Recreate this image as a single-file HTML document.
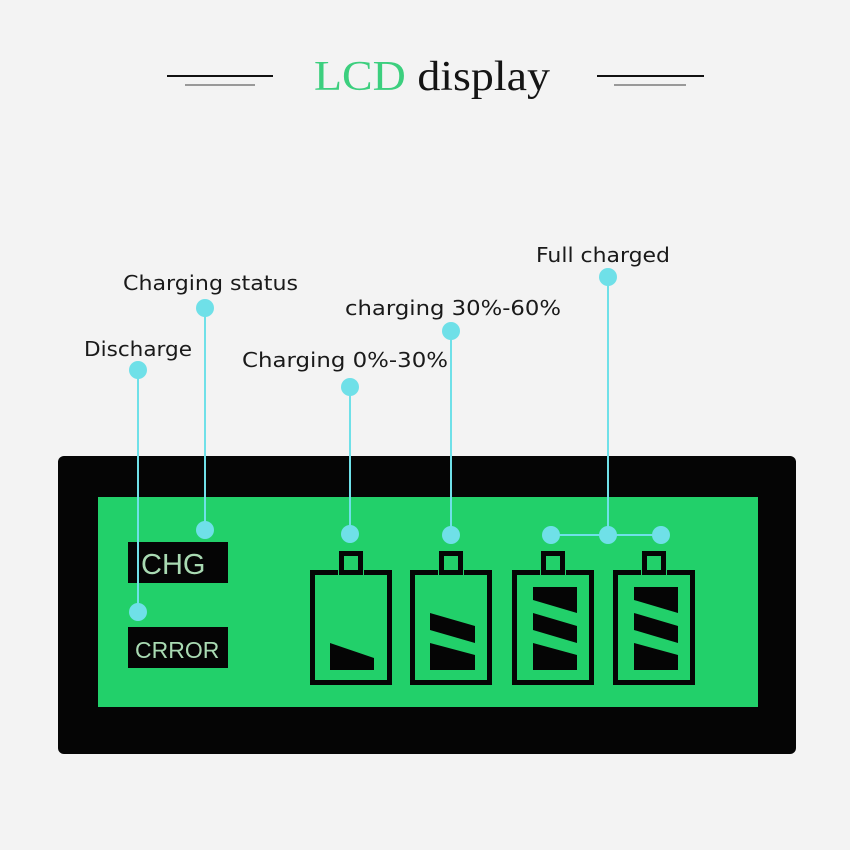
<!DOCTYPE html>
<html><head><style>html,body{margin:0;padding:0;background:#f3f3f3}svg{display:block}</style></head><body>
<svg width="850" height="850" viewBox="0 0 850 850" xmlns="http://www.w3.org/2000/svg">
<rect width="850" height="850" fill="#f3f3f3"/>
<line x1="167" y1="76" x2="273" y2="76" stroke="#111" stroke-width="2"/>
<line x1="185" y1="85" x2="255" y2="85" stroke="#999" stroke-width="2"/>
<line x1="597" y1="76" x2="704" y2="76" stroke="#111" stroke-width="2"/>
<line x1="614" y1="85" x2="686" y2="85" stroke="#999" stroke-width="2"/>
<text x="314" y="90" font-family="Liberation Serif, serif" font-size="42" textLength="236" lengthAdjust="spacingAndGlyphs"><tspan fill="#3ccf7e">LCD</tspan><tspan fill="#141414"> display</tspan></text>

<rect x="58" y="456" width="738" height="298" rx="6" fill="#050505"/>
<rect x="98" y="497" width="660" height="210" fill="#22d06a"/>

<rect x="128" y="542" width="100" height="41" fill="#050505"/>
<text x="141" y="574" font-family="Liberation Sans, sans-serif" font-size="29" fill="#a9dab2">CHG</text>
<rect x="128" y="627" width="100" height="41" fill="#050505"/>
<text x="135" y="658" font-family="Liberation Sans, sans-serif" font-size="23" fill="#a9dab2">CRROR</text>

<g fill="none" stroke="#050505" stroke-width="5">
<path d="M338 572.5H312.5V682.5H389.5V572.5H364"/><rect x="341.5" y="553.5" width="19" height="19"/>
<path d="M438 572.5H412.5V682.5H489.5V572.5H464"/><rect x="441.5" y="553.5" width="19" height="19"/>
<path d="M540 572.5H514.5V682.5H591.5V572.5H566"/><rect x="543.5" y="553.5" width="19" height="19"/>
<path d="M641 572.5H615.5V682.5H692.5V572.5H667"/><rect x="644.5" y="553.5" width="19" height="19"/>
</g>
<g fill="#050505">
<polygon points="330,643 374,658 374,670 330,670"/>
<polygon points="430,643 475,655 475,670 430,670"/>
<polygon points="430,613 475,626 475,643 430,630"/>
<polygon points="533,643 577,655 577,670 533,670"/>
<polygon points="533,613 577,626 577,643 533,630"/>
<polygon points="533,587 577,587 577,613 533,600"/>
<polygon points="634,643 678,655 678,670 634,670"/>
<polygon points="634,613 678,626 678,643 634,630"/>
<polygon points="634,587 678,587 678,613 634,600"/>
</g>

<g stroke="#6fe0e8" stroke-width="2">
<line x1="138" y1="370" x2="138" y2="612"/>
<line x1="205" y1="308" x2="205" y2="530"/>
<line x1="350" y1="387" x2="350" y2="534"/>
<line x1="451" y1="331" x2="451" y2="535"/>
<line x1="608" y1="277" x2="608" y2="535"/>
<line x1="551" y1="535" x2="661" y2="535"/>
</g>
<g fill="#6fe0e8">
<circle cx="138" cy="370" r="9"/><circle cx="138" cy="612" r="9"/>
<circle cx="205" cy="308" r="9"/><circle cx="205" cy="530" r="9"/>
<circle cx="350" cy="387" r="9"/><circle cx="350" cy="534" r="9"/>
<circle cx="451" cy="331" r="9"/><circle cx="451" cy="535" r="9"/>
<circle cx="608" cy="277" r="9"/><circle cx="608" cy="535" r="9"/>
<circle cx="551" cy="535" r="9"/><circle cx="661" cy="535" r="9"/>
</g>

<g font-family="DejaVu Sans, sans-serif" font-size="20" fill="#1a1a1a" lengthAdjust="spacingAndGlyphs">
<text x="536" y="262" textLength="134" lengthAdjust="spacingAndGlyphs">Full charged</text>
<text x="123" y="290" textLength="175" lengthAdjust="spacingAndGlyphs">Charging status</text>
<text x="345" y="315" textLength="216" lengthAdjust="spacingAndGlyphs">charging 30%-60%</text>
<text x="84" y="356" textLength="108" lengthAdjust="spacingAndGlyphs">Discharge</text>
<text x="242" y="367" textLength="206" lengthAdjust="spacingAndGlyphs">Charging 0%-30%</text>
</g>
</svg>
</body></html>
